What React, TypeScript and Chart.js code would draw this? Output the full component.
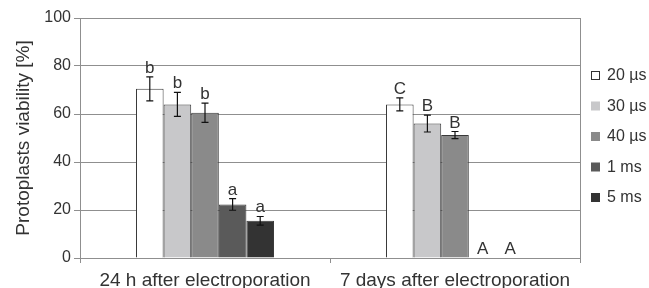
import React, { useEffect, useRef } from "react";
import { Chart, registerables } from "chart.js";

Chart.register(...registerables);

const categories = ["24 h after electroporation", "7 days after electroporation"];
const seriesLabels = ["20 µs", "30 µs", "40 µs", "1 ms", "5 ms"];
const values20us = [70.5, 64];
const values30us = [64, 56];
const values40us = [60.5, 51.2];
const values1ms = [22.3, 0];
const values5ms = [15.5, 0];
const err20us = [5, 2.7];
const err30us = [5, 3.5];
const err40us = [4, 1.5];
const err1ms = [2.4, 0];
const err5ms = [1.8, 0];
const letters20us = ["b", "C"];
const letters30us = ["b", "B"];
const letters40us = ["b", "B"];
const letters1ms = ["a", "A"];
const letters5ms = ["a", "A"];
const yTicks = [0, 20, 40, 60, 80, 100];
const yTitle = "Protoplasts viability [%]";

const seriesValues = [values20us, values30us, values40us, values1ms, values5ms];
const seriesErrors = [err20us, err30us, err40us, err1ms, err5ms];
const seriesLetters = [letters20us, letters30us, letters40us, letters1ms, letters5ms];
const seriesColors = ["#ffffff", "#c8c8ca", "#8a8a8a", "#5a5a5a", "#333333"];

const FONT = "'Liberation Sans', Arial, sans-serif";
const TEXT = "#333333";
const GRID = "#8f8f8f";

const overlayPlugin = {
  id: "overlay",
  afterDatasetsDraw(chart: any) {
    const ctx = chart.ctx;
    const y = chart.scales.y;
    const area = chart.chartArea;
    ctx.save();
    // right border of plot
    ctx.strokeStyle = GRID;
    ctx.lineWidth = 1;
    ctx.beginPath();
    ctx.moveTo(Math.round(area.right) + 0.5, area.top);
    ctx.lineTo(Math.round(area.right) + 0.5, area.bottom);
    ctx.stroke();
    // error bars + letters
    chart.data.datasets.forEach((ds: any, i: number) => {
      const meta = chart.getDatasetMeta(i);
      meta.data.forEach((bar: any, j: number) => {
        const v = seriesValues[i][j];
        const e = seriesErrors[i][j];
        const x = bar.x;
        const yTop = y.getPixelForValue(v + e);
        if (e > 0) {
          const yBot = y.getPixelForValue(v - e);
          ctx.strokeStyle = "#111111";
          ctx.lineWidth = 1.2;
          ctx.beginPath();
          ctx.moveTo(x, yTop);
          ctx.lineTo(x, yBot);
          ctx.moveTo(x - 3.5, yTop);
          ctx.lineTo(x + 3.5, yTop);
          ctx.moveTo(x - 3.5, yBot);
          ctx.lineTo(x + 3.5, yBot);
          ctx.stroke();
        }
        ctx.fillStyle = TEXT;
        ctx.font = `17px ${FONT}`;
        ctx.textAlign = "center";
        ctx.textBaseline = "alphabetic";
        ctx.fillText(seriesLetters[i][j], x, yTop - 4);
      });
    });
    // legend
    const cy = (area.top + area.bottom) / 2;
    const spacing = 30.5;
    seriesLabels.forEach((lab, i) => {
      const iy = cy + (i - 2) * spacing - 1;
      const bx = area.right + 11;
      ctx.fillStyle = seriesColors[i];
      ctx.fillRect(bx, iy - 5, 9, 9);
      if (seriesColors[i] === "#ffffff") {
        ctx.strokeStyle = "#333333";
        ctx.lineWidth = 1;
        ctx.strokeRect(bx + 0.5, iy - 4.5, 8, 8);
      }
      ctx.fillStyle = TEXT;
      ctx.font = `16px ${FONT}`;
      ctx.textAlign = "left";
      ctx.textBaseline = "middle";
      ctx.fillText(lab, area.right + 27, iy);
    });
    ctx.restore();
  },
};

export default function App() {
  const ref = useRef<HTMLCanvasElement | null>(null);
  useEffect(() => {
    document.body.style.margin = "0";
    const canvas = ref.current;
    if (!canvas) return;
    const chart = new Chart(canvas, {
      type: "bar",
      data: {
        labels: categories,
        datasets: seriesLabels.map((lab, i) => ({
          label: lab,
          data: seriesValues[i],
          backgroundColor: seriesColors[i],
          borderColor: "#3a3a3a",
          borderWidth: 1,
          barPercentage: 1,
          categoryPercentage: 0.552,
        })),
      },
      options: {
        animation: false,
        responsive: false,
        maintainAspectRatio: false,
        layout: { padding: { left: 0, right: 69, top: 18, bottom: 0 } },
        plugins: { legend: { display: false }, tooltip: { enabled: false } },
        scales: {
          x: {
            grid: {
              offset: true,
              drawOnChartArea: false,
              drawTicks: true,
              tickLength: 5,
              color: GRID,
            },
            border: { color: GRID, width: 1 },
            ticks: {
              color: TEXT,
              font: { family: FONT, size: 19 },
              padding: 6,
              maxRotation: 0,
            },
            afterFit: (s: any) => {
              s.height = 30;
            },
          },
          y: {
            min: 0,
            max: 100,
            afterBuildTicks: (s: any) => {
              s.ticks = yTicks.map((v) => ({ value: v }));
            },
            grid: { color: GRID, lineWidth: 1, tickLength: 6 },
            border: { color: GRID, width: 1 },
            ticks: {
              color: TEXT,
              font: { family: FONT, size: 16 },
              padding: 3,
            },
            title: {
              display: true,
              text: yTitle,
              color: TEXT,
              font: { family: FONT, size: 19 },
              padding: { top: 12, bottom: 0 },
            },
            afterFit: (s: any) => {
              s.width = 80;
            },
          },
        },
      },
      plugins: [overlayPlugin],
    });
    return () => chart.destroy();
  }, []);
  return (
    <div style={{ width: 649, height: 288, background: "#ffffff" }}>
      <canvas ref={ref} width={649} height={288} style={{ display: "block" }} />
    </div>
  );
}
